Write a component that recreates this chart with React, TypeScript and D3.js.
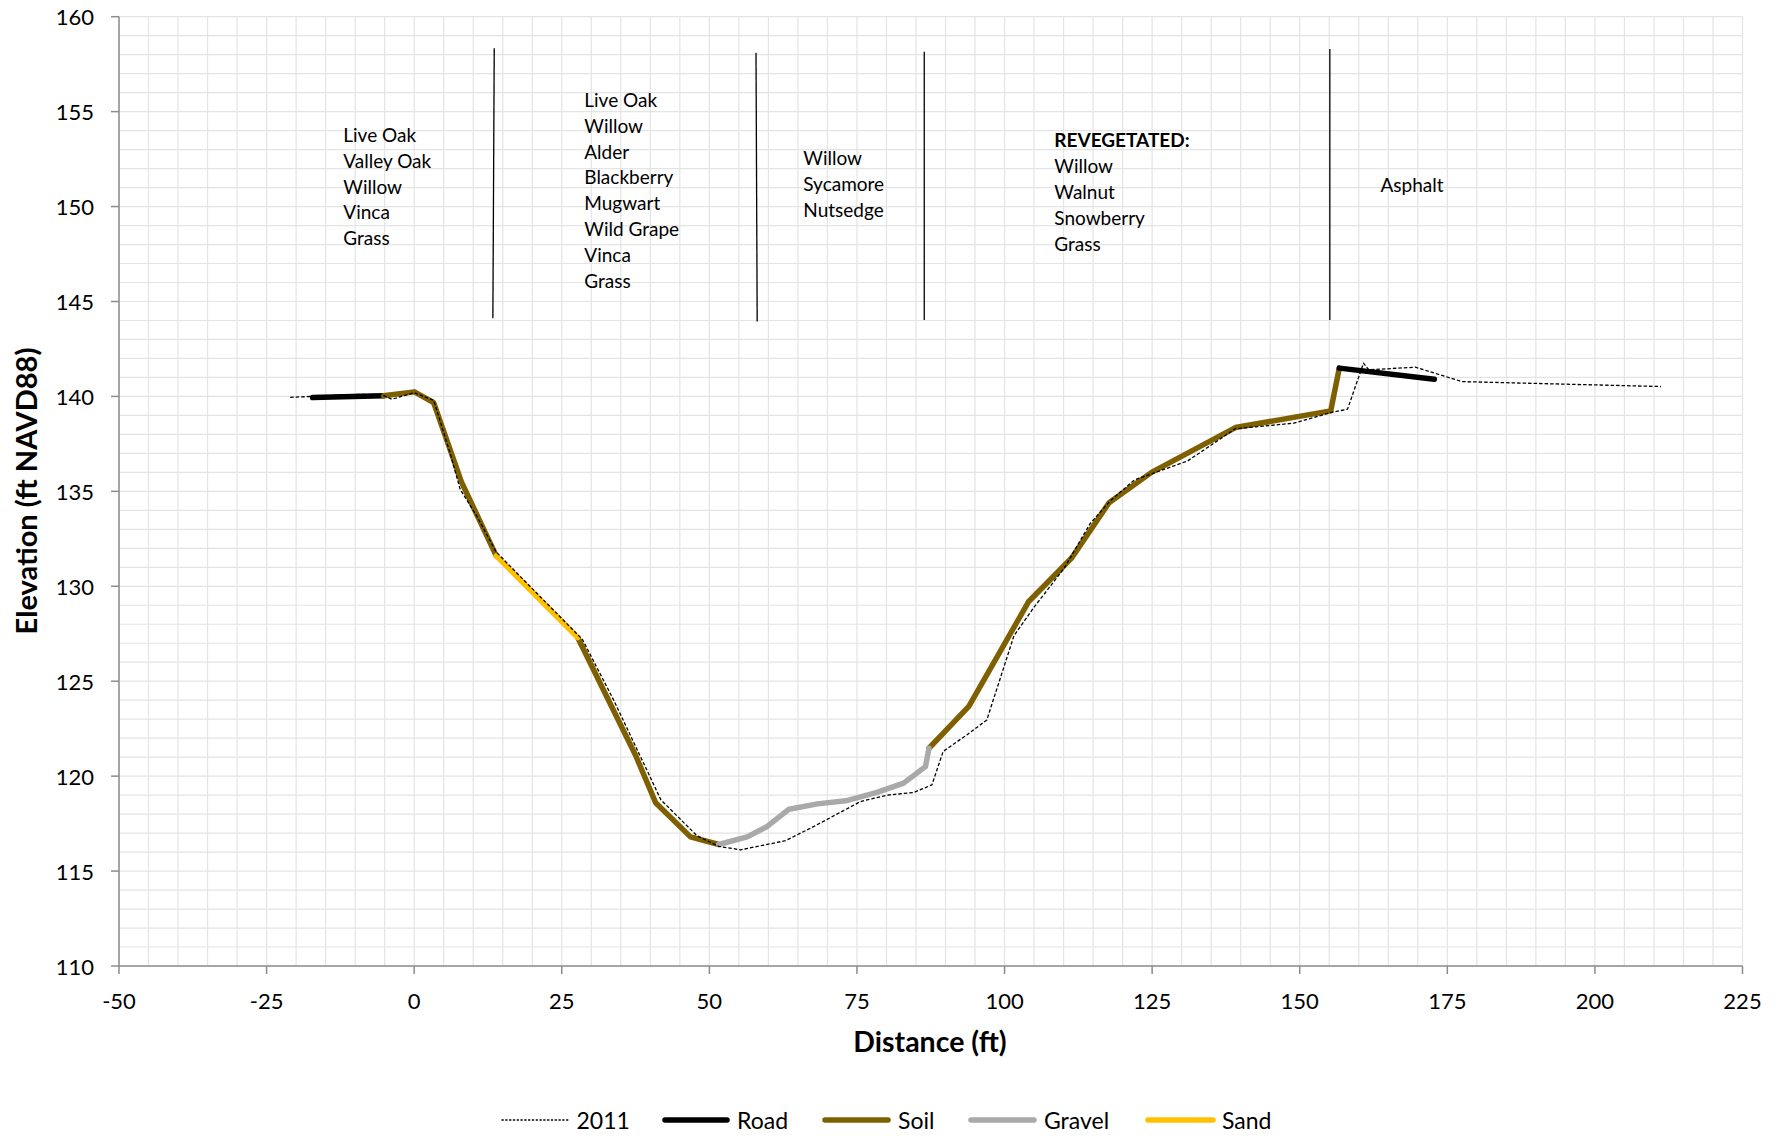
import React from "react";
import * as d3 from "d3";

type P = [number, number];

// ---- data (distance ft, elevation ft NAVD88) ----
const survey2011: P[] = [
  [-21.0, 139.95], [-10, 140.1], [-5.5, 140.1], [-3.8, 139.85], [0, 140.2],
  [3.3, 139.8], [6.1, 137.0], [7.8, 135.1], [10.6, 133.7], [13.9, 131.8],
  [28.5, 127.2], [33.8, 124.0], [41.8, 118.75], [47.9, 116.86], [51.6, 116.3],
  [55.3, 116.12], [62.9, 116.6], [67.7, 117.35], [75.6, 118.66], [80.1, 119.0],
  [84.6, 119.14], [87.7, 119.54], [89.6, 121.3], [93.6, 122.17], [97.0, 122.96],
  [101.6, 127.4], [105.0, 128.9], [110.1, 130.95], [114.5, 133.3], [117.9, 134.5],
  [122.0, 135.6], [131.0, 136.6], [139.1, 138.3], [149.0, 138.59], [155.25, 139.15],
  [158.1, 139.33], [160.8, 141.75], [161.7, 141.4], [169.6, 141.54], [177.5, 140.78],
  [211.2, 140.52],
];

const roadLeft: P[] = [[-17.2, 139.94], [-5.2, 140.03]];
const soilLeft: P[] = [[-5.2, 140.03], [0.05, 140.24], [3.3, 139.67], [8.0, 135.5], [13.9, 131.6]];
const sand: P[] = [[13.9, 131.6], [27.7, 127.3]];
const soilMid: P[] = [[27.7, 127.3], [37.5, 121.1], [40.9, 118.6], [46.8, 116.8], [51.6, 116.4]];
const gravel: P[] = [
  [51.6, 116.4], [56.4, 116.8], [59.8, 117.35], [63.5, 118.26], [68.3, 118.54],
  [73.1, 118.7], [78.4, 119.14], [82.9, 119.63], [86.6, 120.5], [87.2, 121.47],
];
const soilRight: P[] = [
  [87.2, 121.47], [93.95, 123.67], [104.1, 129.2], [111.4, 131.5], [117.7, 134.4],
  [124.9, 136.0], [139.1, 138.36], [155.25, 139.24], [156.7, 141.49],
];
const roadRight: P[] = [[156.7, 141.49], [172.8, 140.9]];

// zone divider lines (top point, bottom point)
const dividers: [P, P][] = [
  [[13.56, 158.34], [13.33, 144.12]],
  [[57.9, 158.1], [58.1, 143.94]],
  [[86.4, 158.16], [86.4, 144.03]],
  [[155.1, 158.3], [155.1, 144.03]],
];

const zone1 = ["Live Oak", "Valley Oak", "Willow", "Vinca", "Grass"];
const zone2 = ["Live Oak", "Willow", "Alder", "Blackberry", "Mugwart", "Wild Grape", "Vinca", "Grass"];
const zone3 = ["Willow", "Sycamore", "Nutsedge"];
const zone4 = ["REVEGETATED:", "Willow", "Walnut", "Snowberry", "Grass"];
const zone5 = ["Asphalt"];

const xTicks = [-50, -25, 0, 25, 50, 75, 100, 125, 150, 175, 200, 225];
const yTicks = [110, 115, 120, 125, 130, 135, 140, 145, 150, 155, 160];

const legendNames = ["2011", "Road", "Soil", "Gravel", "Sand"];

// ---- layout ----
const W = 1783;
const H = 1136;
const X0 = 119, X1 = 1742.5, Y0 = 966, Y1 = 16.7;
const FONT = "Lato, 'Open Sans', sans-serif";
const COLORS = { road: "#000000", soil: "#7F6000", gravel: "#A9A9A9", sand: "#FFC000" };
const LW = 5.5;

export default function App() {
  const x = d3.scaleLinear().domain([-50, 225]).range([X0, X1]);
  const y = d3.scaleLinear().domain([110, 160]).range([Y0, Y1]);
  const line = d3.line<P>().x((d) => x(d[0])).y((d) => y(d[1]));

  const minorX = d3.range(-50, 225.1, 5);
  const minorY = d3.range(110, 160.1, 1);

  const zoneLabels: { lines: string[]; px: number; py: number; boldFirst?: boolean }[] = [
    { lines: zone1, px: 343.3, py: 141.7 },
    { lines: zone2, px: 584.3, py: 106.7 },
    { lines: zone3, px: 803.3, py: 165 },
    { lines: zone4, px: 1054.3, py: 147.3, boldFirst: true },
    { lines: zone5, px: 1380.4, py: 192 },
  ];
  const lh = 25.9;

  const legendItems = [
    { name: legendNames[0], x1: 501.5, x2: 568.5, tx: 576.5, color: "#000", w: 1.3, dash: "2.2,1.6", cap: "butt" },
    { name: legendNames[1], x1: 665, x2: 727, tx: 737, color: COLORS.road, w: LW, dash: undefined, cap: "round" },
    { name: legendNames[2], x1: 825, x2: 888, tx: 898, color: COLORS.soil, w: LW, dash: undefined, cap: "round" },
    { name: legendNames[3], x1: 971, x2: 1034, tx: 1044, color: COLORS.gravel, w: LW, dash: undefined, cap: "round" },
    { name: legendNames[4], x1: 1148, x2: 1213, tx: 1222, color: COLORS.sand, w: LW, dash: undefined, cap: "round" },
  ];

  return (
    <svg
      width={W}
      height={H}
      style={{ position: "absolute", left: 0, top: 0, background: "#fff" }}
      fontFamily={FONT}
    >
      <rect x={0} y={0} width={W} height={H} fill="#fff" />
      {/* grid */}
      <g stroke="#e4e4e4" strokeWidth={1.2}>
        {minorX.map((v) => (
          <line key={"gx" + v} x1={x(v)} x2={x(v)} y1={y(110)} y2={y(160)} />
        ))}
        {minorY.map((v) => (
          <line key={"gy" + v} x1={x(-50)} x2={x(225)} y1={y(v)} y2={y(v)} />
        ))}
      </g>
      {/* axes */}
      <g stroke="#8c8c8c" strokeWidth={1.5}>
        <line x1={x(-50)} x2={x(-50)} y1={y(110)} y2={y(160)} />
        <line x1={x(-50)} x2={x(225)} y1={y(110)} y2={y(110)} />
        {yTicks.map((v) => (
          <line key={"yt" + v} x1={x(-50) - 8} x2={x(-50)} y1={y(v)} y2={y(v)} />
        ))}
        {xTicks.map((v) => (
          <line key={"xt" + v} x1={x(v)} x2={x(v)} y1={y(110)} y2={y(110) + 8} />
        ))}
      </g>
      <g fontSize={22} fill="#000">
        {yTicks.map((v) => (
          <text key={"yl" + v} x={x(-50) - 25} y={y(v)} textAnchor="end" dominantBaseline="central">
            {v}
          </text>
        ))}
        {xTicks.map((v) => (
          <text key={"xl" + v} x={x(v)} y={1008.5} textAnchor="middle">
            {v}
          </text>
        ))}
      </g>
      {/* axis titles */}
      <text x={930} y={1052} textAnchor="middle" fontSize={28.5} fontWeight="bold" fill="#000">
        Distance (ft)
      </text>
      <text
        transform={`translate(37,${491}) rotate(-90)`}
        textAnchor="middle"
        fontSize={29}
        fontWeight="bold"
        fill="#000"
      >
        Elevation (ft NAVD88)
      </text>

      {/* zone dividers */}
      <g stroke="#000" strokeWidth={1.3}>
        {dividers.map((d, i) => (
          <line key={"dv" + i} x1={x(d[0][0])} y1={y(d[0][1])} x2={x(d[1][0])} y2={y(d[1][1])} />
        ))}
      </g>
      {/* zone labels */}
      <g fontSize={19} fill="#000">
        {zoneLabels.map((z, i) => (
          <text key={"zl" + i} x={z.px} y={z.py}>
            {z.lines.map((t, j) => (
              <tspan key={j} x={z.px} y={z.py + j * lh} fontWeight={z.boldFirst && j === 0 ? "bold" : "normal"}>
                {t}
              </tspan>
            ))}
          </text>
        ))}
      </g>

      {/* series */}
      <g fill="none" strokeLinejoin="round">
        <path d={line(roadLeft) || ""} stroke={COLORS.road} strokeWidth={LW} strokeLinecap="round" />
        <path d={line(soilLeft) || ""} stroke={COLORS.soil} strokeWidth={LW} strokeLinecap="round" />
        <path d={line(soilMid) || ""} stroke={COLORS.soil} strokeWidth={LW} strokeLinecap="round" />
        <path d={line(soilRight) || ""} stroke={COLORS.soil} strokeWidth={LW} strokeLinecap="round" />
        <path d={line(gravel) || ""} stroke={COLORS.gravel} strokeWidth={LW} strokeLinecap="round" />
        <path d={line(sand) || ""} stroke={COLORS.sand} strokeWidth={LW} strokeLinecap="round" />
        <path d={line(roadRight) || ""} stroke={COLORS.road} strokeWidth={LW} strokeLinecap="round" />
        <path d={line(survey2011) || ""} stroke="#000" strokeWidth={1.3} strokeDasharray="3.5,2" />
      </g>

      {/* legend */}
      <g>
        {legendItems.map((it) => (
          <g key={it.name}>
            <line
              x1={it.x1}
              x2={it.x2}
              y1={1120}
              y2={1120}
              stroke={it.color}
              strokeWidth={it.w}
              strokeDasharray={it.dash}
              strokeLinecap={it.cap as any}
            />
            <text x={it.tx} y={1120} dominantBaseline="central" fontSize={23} fill="#000">
              {it.name}
            </text>
          </g>
        ))}
      </g>
    </svg>
  );
}
